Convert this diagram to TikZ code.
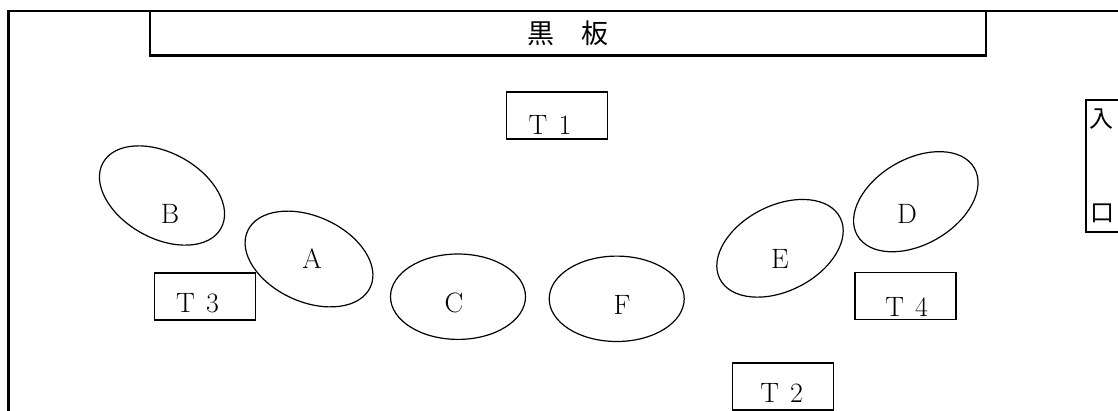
\documentclass[tikz,border=0pt]{standalone}
\usepackage{fontspec}
\newfontfamily\jp{Noto Sans CJK JP}
\usetikzlibrary{shapes.geometric}
\begin{document}
\begin{tikzpicture}[x=1pt,y=-1pt,
  wall/.style={line width=2.2pt},
  tbox/.style={draw, line width=1.6pt, minimum width=101pt, minimum height=47pt, inner sep=0pt},
  seat/.style={draw, ellipse, line width=1.2pt, minimum width=135pt, minimum height=85.4pt, inner sep=0pt},
  lbl/.style={font=\fontsize{28}{28}\selectfont, inner sep=0pt},
  jlbl/.style={font=\jp\fontsize{24}{24}\selectfont, inner sep=0pt},
]
\useasboundingbox (0,0) rectangle (1118,410);
\clip (0,0) rectangle (1118,410);
% room walls
\coordinate (wallBL) at (8.5,412);
\coordinate (wallTL) at (8.5,11);
\coordinate (wallTR) at (1120,11);
\draw[wall] (wallBL) -- (wallTL) -- (wallTR);
% blackboard
\node[draw, wall, minimum width=836pt, minimum height=44.5pt, inner sep=0pt,
      font=\jp\fontsize{27}{27}\selectfont] (board) at (568,33.25) {黒　板};
% entrance
\coordinate (entTR) at (1120,100);
\coordinate (entTL) at (1086,100);
\coordinate (entBL) at (1086,232);
\coordinate (entBR) at (1120,232);
\draw[line width=1.8pt] (entTR) -- (entTL) -- (entBL) -- (entBR);
\node[jlbl] (ent1) at (1101,119) {入};
\node[jlbl] (ent2) at (1102,213) {口};
% teacher boxes
\node[tbox] (t1box) at (557,115.5) {};
\node[lbl] (t1) at (550,124.5) {T\hspace{0.4em}1};
\node[tbox] (t2box) at (782.8,386.2) {};
\node[lbl] (t2) at (781.7,393.3) {T\hspace{0.4em}2};
\node[tbox] (t3box) at (205,296.2) {};
\node[lbl] (t3) at (197.5,303) {T\hspace{0.4em}3};
\node[tbox] (t4box) at (905.2,295.8) {};
\node[lbl] (t4) at (906.7,306.7) {T\hspace{0.4em}4};
% seats
\node[seat, rotate=-29] (seatB) at (162,195.5) {};
\node[lbl] (labB) at (170,214) {B};
\node[seat, rotate=-24.5] (seatA) at (309,259) {};
\node[lbl] (labA) at (312,259) {A};
\node[seat] (seatC) at (458,296.7) {};
\node[lbl] (labC) at (454,303) {C};
\node[seat] (seatF) at (616.7,298.8) {};
\node[lbl] (labF) at (622,305) {F};
\node[seat, rotate=27] (seatE) at (780,248.3) {};
\node[lbl] (labE) at (780,259) {E};
\node[seat, rotate=30] (seatD) at (915.8,201.7) {};
\node[lbl] (labD) at (907,214) {D};
\end{tikzpicture}
\end{document}
